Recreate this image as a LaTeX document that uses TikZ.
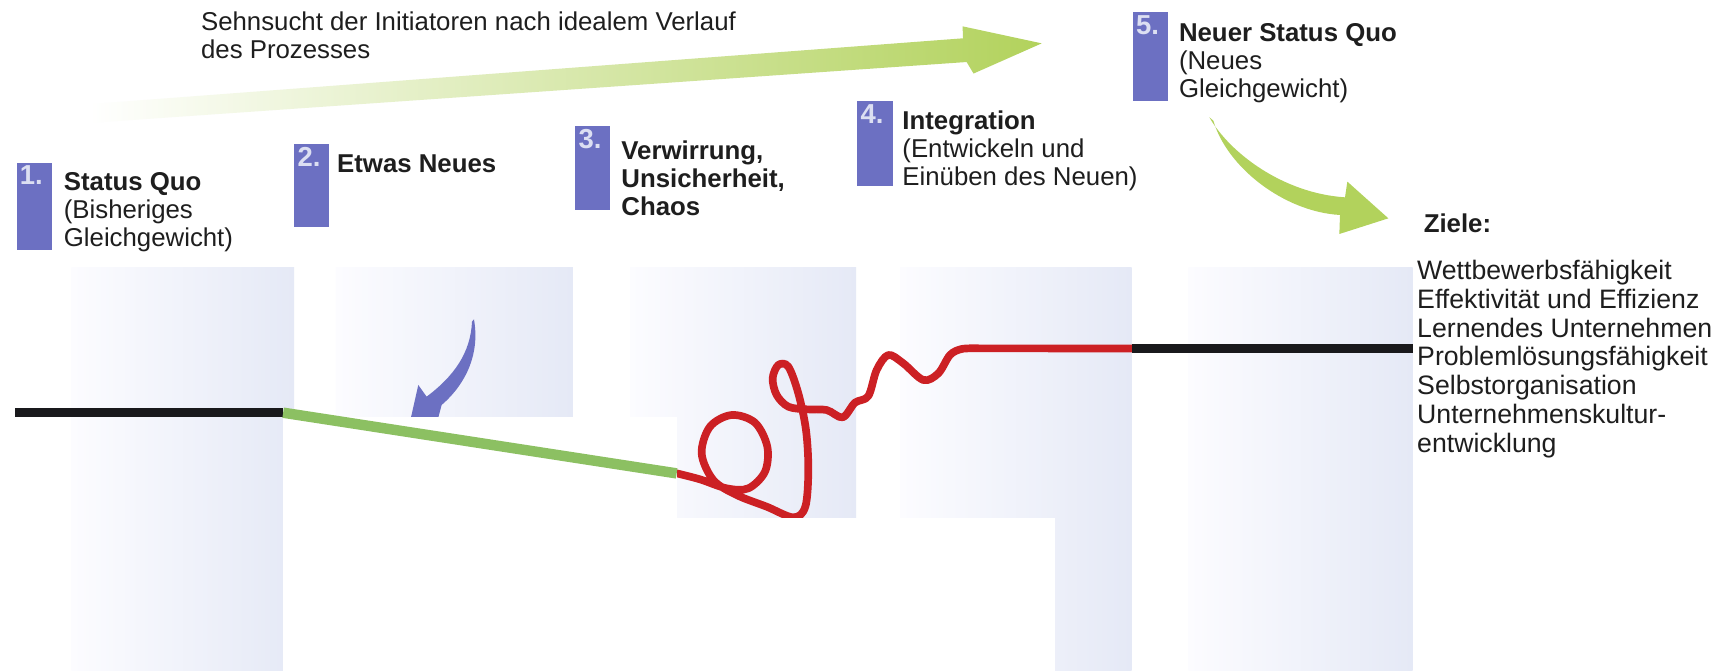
\documentclass[tikz,border=0pt]{standalone}
\usepackage{fontspec}
\setmainfont{Liberation Sans}
\definecolor{arrowgreen}{RGB}{178,210,92}
\definecolor{linegreen}{RGB}{140,192,98}
\definecolor{boxc}{RGB}{108,112,194}
\definecolor{numc}{RGB}{220,223,242}
\definecolor{panelR}{RGB}{229,233,246}
\definecolor{panelL}{RGB}{252,252,255}
\definecolor{redc}{RGB}{204,32,36}
\definecolor{txtc}{RGB}{30,30,30}
\definecolor{blackc}{RGB}{25,25,28}
\tikzset{
  txt/.style={anchor=north west, inner sep=0pt, align=left, text=txtc,
    font=\fontsize{23.5}{25.5}\selectfont},
  listtxt/.style={txt, font=\fontsize{24.3}{26.2}\selectfont},
  numbox/.style={fill=boxc, draw=none, anchor=north west, inner sep=0pt,
    minimum width=32pt},
  numtxt/.style={anchor=north west, inner sep=0pt, text=numc,
    font=\bfseries\fontsize{25}{25}\selectfont},
  panel/.style={left color=panelL, right color=panelR, draw=none},
  blank/.style={fill=white, draw=none},
  level/.style={line width=8pt, color=blackc},
}
\begin{document}
\begin{tikzpicture}[x=1pt,y=-1pt]
\useasboundingbox (0,0) rectangle (1568,611);
\fill[white] (0,0) rectangle (1568,611);

% background panels
\path[panel] (65,244) rectangle (268,611);
\path[panel] (306,244) rectangle (522,611);
\path[panel] (574,244) rectangle (780,611);
\path[panel] (820,244) rectangle (1031,611);
\path[panel] (1083,244) rectangle (1287,611);

% top arrow (ideal course)
\path[left color=white, middle color=arrowgreen!55, right color=arrowgreen]
  (82,94.8) -- (877.4,34.9) -- (877,24) -- (949.1,39.5) -- (887,67)
  -- (880.7,56.5) -- (82,112) -- cycle;

% blue curved arrow (something new)
\begin{scope}[shift={(273.3,264.2)},scale=0.3037]
  \fill[boxc] (522,88) .. controls (540,190) and (500,280) .. (425,345)
    -- (405,420) -- (320,440) -- (355,285) -- (380,320)
    .. controls (460,260) and (512,190) .. (516,95) -- cycle;
\end{scope}

% green curved arrow to goals
\begin{scope}[shift={(1075.1,91.1)},scale=0.3037]
  \fill[arrowgreen] (88,52) .. controls (150,160) and (310,280) .. (495,292)
    -- (502,245) -- (625,355) -- (478,402) -- (480,345)
    .. controls (310,335) and (140,200) .. (100,62) -- cycle;
\end{scope}

% level coordinates
\coordinate (l1a) at (14,376);
\coordinate (l1b) at (258,376);
\coordinate (g2) at (616.5,431.3);
\coordinate (r1) at (1031,317.5);
\coordinate (r2) at (1287,317.5);

% red chaotic curve
\begin{scope}[shift={(601.31,291.55)},scale=0.3037]
  \draw[redc, line width=7pt, line cap=round, line join=round]
    plot[smooth, tension=0.55] coordinates {
      (50,460) (120,478) (200,505) (265,505) (315,455) (322,380) (285,308)
      (215,285) (150,320) (125,400) (160,480) (230,525) (320,560) (400,592)
      (436,560) (445,450) (438,330) (415,220) (385,140) (355,135) (338,175)
      (350,225) (385,260) (440,268) (500,270) (548,292) (585,248) (625,228)
      (650,150) (685,105) (730,130) (790,180) (835,160) (870,105) (905,87)
      (950,85)}
    -- (r1);
\end{scope}

% white cut-outs
\path[blank] (258,380) rectangle (617,612);
\path[blank] (617,472) rectangle (961,612);

% levels
\draw[level] (l1a) -- (l1b);
\draw[line width=9.5pt, color=linegreen] (l1b) -- (g2);
\draw[level] (r1) -- (r2);

% heading text
\node[txt] (sehn) at (183,11) {Sehnsucht der Initiatoren nach idealem Verlauf\\des Prozesses};

% numbered boxes
\node[numbox, minimum height=80pt] (b1) at (15,148) {};
\node[numbox, minimum height=76pt] (b2) at (268,131) {};
\node[numbox, minimum height=76pt] (b3) at (524,115) {};
\node[numbox, minimum height=77pt] (b4) at (781,92) {};
\node[numbox, minimum height=81pt] (b5) at (1032,11) {};
\node[numtxt] (n1) at ([shift={(3,3)}]b1.north west) {1.};
\node[numtxt] (n2) at ([shift={(3,3)}]b2.north west) {2.};
\node[numtxt] (n3) at ([shift={(3,3)}]b3.north west) {3.};
\node[numtxt] (n4) at ([shift={(3,3)}]b4.north west) {4.};
\node[numtxt] (n5) at ([shift={(3,3)}]b5.north west) {5.};

% stage labels
\node[txt] (t1) at (58,157) {\textbf{Status Quo}\\(Bisheriges\\Gleichgewicht)};
\node[txt] (t2) at (307,141) {\textbf{Etwas Neues}};
\node[txt] (t3) at (566,128) {\textbf{Verwirrung,}\\\textbf{Unsicherheit,}\\\textbf{Chaos}};
\node[txt] (t4) at (822,101) {\textbf{Integration}\\(Entwickeln und\\Einüben des Neuen)};
\node[txt] (t5) at (1074,21) {\textbf{Neuer Status Quo}\\(Neues\\Gleichgewicht)};

% goals
\node[txt] (ziele) at (1297,195) {\textbf{Ziele:}};
\node[listtxt] (liste) at (1291,237) {Wettbewerbsfähigkeit\\Effektivität und Effizienz\\Lernendes Unternehmen\\Problemlösungsfähigkeit\\Selbstorganisation\\Unternehmenskultur-\\entwicklung};
\end{tikzpicture}
\end{document}
